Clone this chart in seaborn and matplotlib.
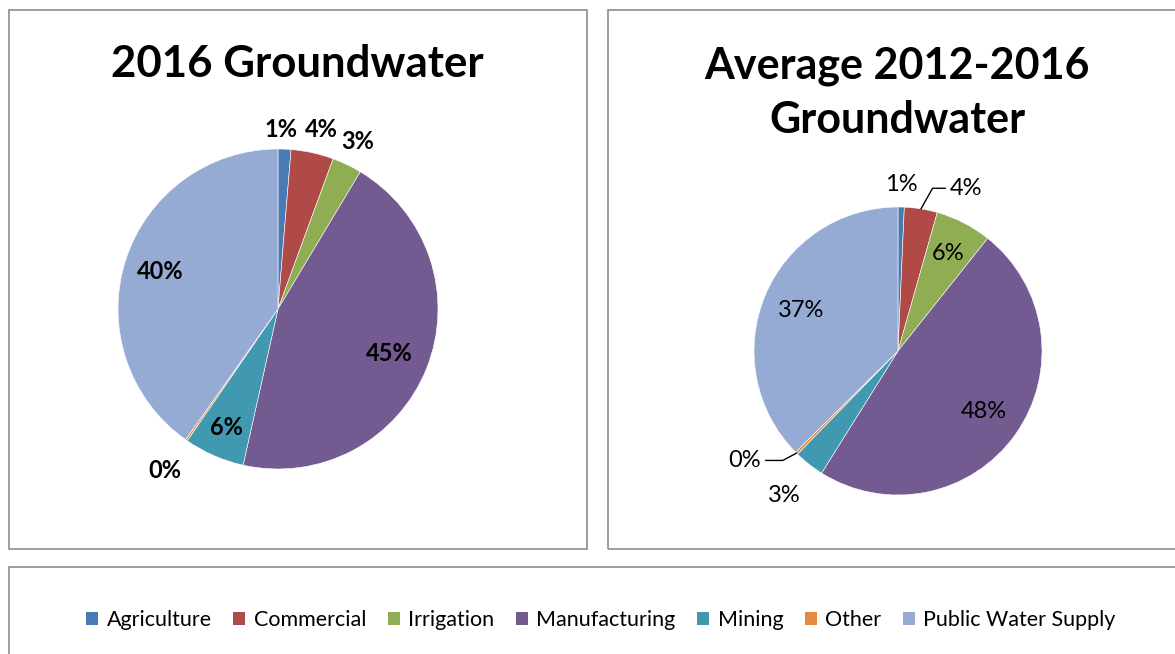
import numpy as np
import matplotlib
matplotlib.use("Agg")
import matplotlib.pyplot as plt
from matplotlib.patches import Rectangle, Patch
import seaborn as sns

sns.set_theme(style="white")
plt.rcParams["font.family"] = ["Lato", "DejaVu Sans"]
plt.rcParams["text.color"] = "black"

# Water use categories and shares (percent of groundwater withdrawals)
categories = ["Agriculture", "Commercial", "Irrigation", "Manufacturing",
              "Mining", "Other", "Public Water Supply"]
share_2016 = [1.3, 4.3, 3.0, 44.9, 6.1, 0.2, 40.2]
share_avg = [0.7, 3.7, 6.3, 48.2, 3.4, 0.3, 37.4]
titles = ["2016 Groundwater", "Average 2012-2016\nGroundwater"]

palette = sns.color_palette(["#4a7ab4", "#b04a46", "#8fad52", "#735a91",
                             "#4099b0", "#e58a3f", "#95abd3"])

W, H = 1175, 654
fig = plt.figure(figsize=(W / 100, H / 100), dpi=100)


def px_box(x0, y0, x1, y1):
    return [x0 / W, 1 - y1 / H, (x1 - x0) / W, (y1 - y0) / H]


def frame(x0, y0, x1, y1):
    l, b, w, h = px_box(x0, y0, x1, y1)
    fig.patches.append(Rectangle((l, b), w, h, transform=fig.transFigure,
                                 fill=False, edgecolor="#8c8c8c", lw=1.2))


# panel frames
frame(9, 10, 587, 549)
frame(608, 10, 1186, 549)
frame(9, 567, 1186, 660)


def draw_pie(cx, cy, r, values, label_r, bold, leaders, fixed=None):
    fixed = fixed or {}
    ax = fig.add_axes(px_box(cx - r, cy - r, cx + r, cy + r))
    wedges, _ = ax.pie(values, colors=palette, startangle=90, counterclock=False,
                       wedgeprops=dict(edgecolor="white", linewidth=0.4))
    ax.set_xlim(-1, 1)
    ax.set_ylim(-1, 1)
    ax.set_aspect("equal")
    ax.axis("off")
    total = sum(values)
    weight = "bold" if bold else "normal"
    for i, (w, v) in enumerate(zip(wedges, values)):
        mid = np.deg2rad((w.theta1 + w.theta2) / 2)
        txt = f"{round(v / total * 100):.0f}%"
        if leaders.get(i):
            (tx, ty), (kx, ky) = leaders[i]
            ex, ey = np.cos(mid), np.sin(mid)
            ax.plot([ex, kx, tx], [ey, ky, ty], color="black", lw=1.0,
                    clip_on=False)
            ha = "left" if tx > 0 else "right"
            ax.text(tx + (0.03 if tx > 0 else -0.03), ty, txt, ha=ha,
                    va="center", fontsize=17, fontweight=weight, clip_on=False)
            continue
        if i in fixed:
            x, y = fixed[i]
        else:
            rr = label_r[i]
            x, y = rr * np.cos(mid), rr * np.sin(mid)
        ax.text(x, y, txt, ha="center", va="center", fontsize=17,
                fontweight=weight, clip_on=False)
    return ax


draw_pie(278, 309, 160, share_2016,
         [1.13, 1.15, 1.16, 0.75, 0.81, 1.23, 0.77], True, {},
         fixed={0: (0.02, 1.12), 1: (0.27, 1.12)})
draw_pie(898, 351, 144, share_avg,
         [1.16, 1.2, 0.76, 0.73, 1.28, 1.28, 0.73], False,
         {1: ((0.33, 1.13), (0.24, 1.13)),
          5: ((-0.92, -0.76), (-0.8, -0.76))})

# titles
fig.text(297 / W, 1 - 64 / H, titles[0], ha="center", va="center",
         fontsize=31.5, fontweight="bold")
fig.text(897 / W, 1 - 93 / H, titles[1], ha="center", va="center",
         fontsize=31, fontweight="bold", linespacing=1.45)

handles = [Patch(facecolor=c, edgecolor="none") for c in palette]
fig.legend(handles, categories, loc="center", ncol=7,
           bbox_to_anchor=(601 / W, 1 - 620 / H), frameon=False,
           fontsize=15.5, handlelength=0.55, handleheight=0.55,
           handletextpad=0.4, columnspacing=1.0)

fig.savefig("out.png", dpi=100)
